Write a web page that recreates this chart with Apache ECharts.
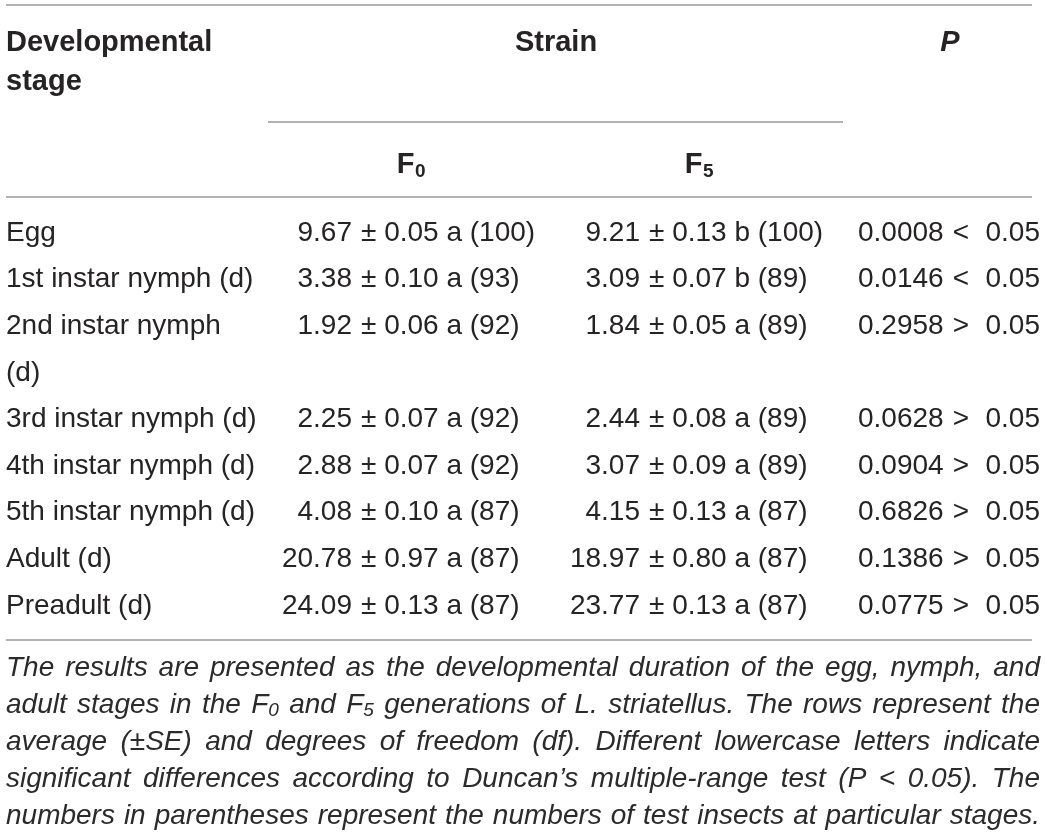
<!DOCTYPE html>
<html>
<head>
<meta charset="utf-8">
<script src="https://cdn.jsdelivr.net/npm/echarts@6/dist/echarts.min.js"></script>
<style>
html, body { margin: 0; padding: 0; background: #ffffff; }
#chart { width: 1046px; height: 838px; }
</style>
</head>
<body>
<div id="chart"></div>
<script>
// ---------------- DATA ----------------
const stages = ['Egg', '1st instar nymph (d)', '2nd instar nymph (d)', '3rd instar nymph (d)',
  '4th instar nymph (d)', '5th instar nymph (d)', 'Adult (d)', 'Preadult (d)'];
const f0Mean = [9.67, 3.38, 1.92, 2.25, 2.88, 4.08, 20.78, 24.09];
const f0SE = [0.05, 0.10, 0.06, 0.07, 0.07, 0.10, 0.97, 0.13];
const f0Letter = ['a', 'a', 'a', 'a', 'a', 'a', 'a', 'a'];
const f0N = [100, 93, 92, 92, 92, 87, 87, 87];
const f5Mean = [9.21, 3.09, 1.84, 2.44, 3.07, 4.15, 18.97, 23.77];
const f5SE = [0.13, 0.07, 0.05, 0.08, 0.09, 0.13, 0.80, 0.13];
const f5Letter = ['b', 'b', 'a', 'a', 'a', 'a', 'a', 'a'];
const f5N = [100, 89, 89, 89, 89, 87, 87, 87];
const pValues = [0.0008, 0.0146, 0.2958, 0.0628, 0.0904, 0.6826, 0.1386, 0.0775];
const alpha = 0.05;

const headerStage = 'Developmental stage';
const headerStrain = 'Strain';
const headerP = 'P';
const strainNames = [['F', '0'], ['F', '5']];

// "_x" marks a subscript
const footnoteLines = [
  'The results are presented as the developmental duration of the egg, nymph, and',
  'adult stages in the F_0 and F_5 generations of L. striatellus. The rows represent the',
  'average (\u00b1SE) and degrees of freedom (df). Different lowercase letters indicate',
  'significant differences according to Duncan\u2019s multiple-range test (P < 0.05). The',
  'numbers in parentheses represent the numbers of test insects at particular stages.'
];

// ---------------- LAYOUT / STYLE ----------------
const FAMILY = '"Liberation Sans", Arial, Helvetica, sans-serif';
const TEXT = '#262324';
const RULE = '#9a9a9a';
const BODY_SIZE = 28;
const HEAD_SIZE = 29;
const NOTE_SIZE = 28;
const ROW_H = 46.6;
const FIRST_ROW_Y = 233;
const STAGE_WRAP = 253;
const COL = { stage: 6, f0: 352, f5: 640, pmGap: 9, p: 858, sign: 961, thr: 1040 };
const LEFT = 6, RIGHT = 1040;
const NOTE_Y = 668, NOTE_LH = 37;

const ctx = document.createElement('canvas').getContext('2d');
function measure(text, size, weight, style) {
  ctx.font = (style || 'normal') + ' ' + (weight || 'normal') + ' ' + size + 'px ' + FAMILY;
  return ctx.measureText(text).width;
}
function wrap(text, size, weight, maxW) {
  const words = text.split(' ');
  const lines = [];
  let cur = '';
  words.forEach(w => {
    const t = cur ? cur + ' ' + w : w;
    if (cur && measure(t, size, weight) > maxW) { lines.push(cur); cur = w; }
    else cur = t;
  });
  if (cur) lines.push(cur);
  return lines;
}

// row slots derived from wrapped stage labels
const stageLines = stages.map(s => wrap(s, BODY_SIZE, 'normal', STAGE_WRAP));
const slotStart = [];
let acc = 0;
stageLines.forEach(l => { slotStart.push(acc); acc += l.length; });
const totalSlots = acc;

// ---------------- GRAPHICS (headers, rules, note) ----------------
const graphics = [];
function txt(x, y, text, opts) {
  opts = opts || {};
  graphics.push({
    type: 'text', x: x, y: y, silent: true,
    style: {
      text: text, fill: opts.fill || TEXT,
      fontSize: opts.size || BODY_SIZE, fontFamily: FAMILY,
      fontWeight: opts.weight || 'normal', fontStyle: opts.style || 'normal',
      align: opts.align || 'left', verticalAlign: 'middle'
    }
  });
}
function rule(x1, x2, y) {
  graphics.push({ type: 'line', silent: true, shape: { x1: x1, y1: y, x2: x2, y2: y },
    style: { stroke: RULE, lineWidth: 1.5 } });
}
rule(6, 1032, 5);
rule(268, 843, 122);
rule(6, 1032, 197);
rule(6, 1032, 640);

wrap(headerStage, HEAD_SIZE, 'bold', STAGE_WRAP).forEach((l, k) => txt(6, 43 + k * 39, l, { size: HEAD_SIZE, weight: 'bold' }));
txt(556, 43, headerStrain, { size: HEAD_SIZE, weight: 'bold', align: 'center' });
txt(950, 43, headerP, { size: HEAD_SIZE, weight: 'bold', style: 'italic', align: 'center' });

const strainCenters = [411, 699];
strainNames.forEach((nm, j) => {
  const wF = measure(nm[0], HEAD_SIZE, 'bold');
  const wS = measure(nm[1], 19, 'bold');
  const x0 = strainCenters[j] - (wF + wS) / 2;
  txt(x0, 165, nm[0], { size: HEAD_SIZE, weight: 'bold' });
  txt(x0 + wF + 0.5, 172, nm[1], { size: 19, weight: 'bold' });
});

// justified footnote
footnoteLines.forEach((line, li) => {
  const y = NOTE_Y + li * NOTE_LH;
  const tokens = line.split(' ').map(w => {
    const segs = [];
    const m = w.match(/^(.*?)_(\w)(.*)$/);
    if (m) {
      segs.push({ t: m[1], sub: false });
      segs.push({ t: m[2], sub: true });
      if (m[3]) segs.push({ t: m[3], sub: false });
    } else segs.push({ t: w, sub: false });
    segs.forEach(s => { s.w = measure(s.t, s.sub ? 19 : NOTE_SIZE, 'normal', 'italic'); });
    return { segs: segs, w: segs.reduce((a, s) => a + s.w, 0) };
  });
  const total = tokens.reduce((a, t) => a + t.w, 0);
  const gap = (RIGHT - LEFT - total) / (tokens.length - 1);
  let x = LEFT;
  tokens.forEach(tok => {
    let xx = x;
    tok.segs.forEach(s => {
      txt(xx, s.sub ? y + 6 : y, s.t, { size: s.sub ? 19 : NOTE_SIZE, style: 'italic', fill: '#2b2b2b' });
      xx += s.w;
    });
    x += tok.w + gap;
  });
});

// ---------------- CHART ----------------
const chart = echarts.init(document.getElementById('chart'), null, { renderer: 'canvas' });

function cellText(x, y, text, align) {
  return { type: 'text', style: { x: x, y: y, text: text, fill: TEXT, fontSize: BODY_SIZE,
    fontFamily: FAMILY, align: align, verticalAlign: 'middle' } };
}

chart.setOption({
  backgroundColor: '#ffffff',
  animation: false,
  grid: { left: 0, width: 1046, top: FIRST_ROW_Y - ROW_H / 2, height: ROW_H * totalSlots },
  xAxis: { type: 'value', min: 0, max: 1046, show: false },
  yAxis: { type: 'value', min: 0, max: totalSlots, inverse: true, show: false },
  graphic: graphics,
  series: [{
    type: 'custom',
    silent: true,
    clip: false,
    data: stages.map((s, i) => [i, slotStart[i]]),
    renderItem: function (params, api) {
      const i = api.value(0);
      const top = api.value(1);
      const children = [];
      stageLines[i].forEach((ln, k) => {
        const p = api.coord([COL.stage, top + k + 0.5]);
        children.push(cellText(p[0], p[1], ln, 'left'));
      });
      const y = api.coord([0, top + 0.5])[1];
      const xF0 = api.coord([COL.f0, 0])[0];
      const xF5 = api.coord([COL.f5, 0])[0];
      children.push(cellText(xF0, y, f0Mean[i].toFixed(2), 'right'));
      children.push(cellText(xF0 + COL.pmGap, y, '\u00b1 ' + f0SE[i].toFixed(2) + ' ' + f0Letter[i] + ' (' + f0N[i] + ')', 'left'));
      children.push(cellText(xF5, y, f5Mean[i].toFixed(2), 'right'));
      children.push(cellText(xF5 + COL.pmGap, y, '\u00b1 ' + f5SE[i].toFixed(2) + ' ' + f5Letter[i] + ' (' + f5N[i] + ')', 'left'));
      children.push(cellText(api.coord([COL.p, 0])[0], y, pValues[i].toFixed(4), 'left'));
      children.push(cellText(api.coord([COL.sign, 0])[0], y, pValues[i] < alpha ? '<' : '>', 'center'));
      children.push(cellText(api.coord([COL.thr, 0])[0], y, alpha.toFixed(2), 'right'));
      return { type: 'group', children: children };
    }
  }]
});
</script>
</body>
</html>
